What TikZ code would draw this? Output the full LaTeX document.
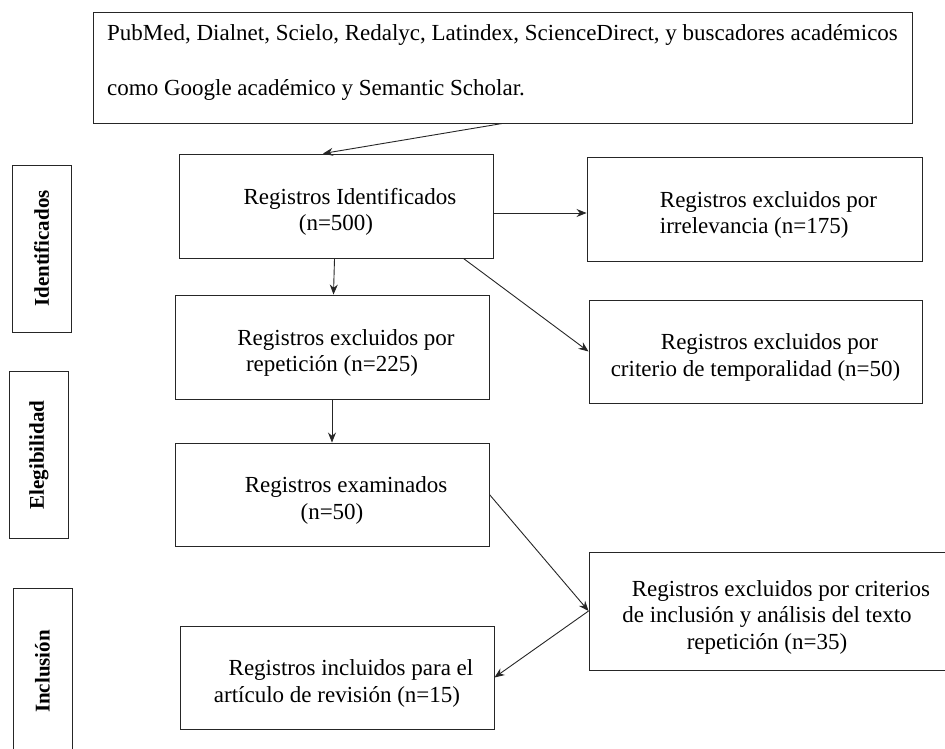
\documentclass[tikz,border=0pt]{standalone}
\usepackage{fontspec}
\setmainfont{Liberation Serif}
\usetikzlibrary{arrows.meta}

\newcommand{\sangria}{\hspace*{28pt}\rule{0pt}{28pt}}
\newcommand{\bajo}{\rule[-15pt]{0pt}{15pt}}

\tikzset{
  caja/.style={draw=black!85, line width=0.9pt, minimum width=314pt, minimum height=104pt, align=center, inner sep=2pt},
  etapa/.style={draw=black!85, line width=0.9pt, rotate=90, minimum width=167pt, minimum height=59pt, inner sep=0pt, font=\bfseries\fontsize{21}{24}\selectfont},
  flecha/.style={-{Stealth[length=10pt,width=8pt]}, line width=0.9pt, draw=black!85}
}

\begin{document}
\begin{tikzpicture}[x=1pt,y=-1pt,font=\fontsize{23}{26.5}\selectfont]
  \useasboundingbox (0,0) rectangle (945,749);

  % fuentes consultadas
  \node[caja, align=left, minimum width=819pt, minimum height=111pt] (fuentes) at (502.5,67.5)
    {PubMed, Dialnet, Scielo, Redalyc, Latindex, ScienceDirect, y buscadores acad\'emicos\\[28pt]como Google acad\'emico y Semantic Scholar.\bajo};

  % etapas
  \node[etapa] (identificados) at (41.5,248.5) {Identificados};
  \node[etapa] (elegibilidad) at (39,455) {Elegibilidad};
  \node[etapa] (inclusion) at (42.5,671.5) {Inclusi\'on};

  % columna izquierda
  \node[caja] (ident) at (336,206) {\sangria Registros Identificados\\(n=500)};
  \node[caja] (rep) at (332,347) {\sangria Registros excluidos por\\repetici\'on (n=225)};
  \node[caja, minimum height=103pt] (exam) at (332,494.5) {\sangria Registros examinados\\(n=50)};
  \node[caja, minimum height=103pt] (incl) at (337,677.5) {\sangria Registros incluidos para el\\art\'iculo de revisi\'on (n=15)};

  % columna derecha
  \node[caja, align=left, minimum width=335pt] (irr) at (754.5,209) {\sangria Registros excluidos por\\\hspace*{28pt}irrelevancia (n=175)};
  \node[caja, minimum width=333pt, minimum height=103pt] (temp) at (755.5,351.5) {\sangria Registros excluidos por\\criterio de temporalidad (n=50)};
  \node[caja, minimum width=356pt, minimum height=118pt] (crit) at (767,611) {\sangria Registros excluidos por criterios\\de inclusi\'on y an\'alisis del texto\\repetici\'on (n=35)};

  % conexiones
  \draw[flecha] (fuentes.south) -- ([xshift=-13pt]ident.north);
  \draw[flecha] ([yshift=-7pt]ident.east) -- ([yshift=-7pt]ident.east -| irr.west);
  \draw[flecha] ([xshift=-30pt]ident.south east) -- (temp.west);
  \draw[flecha] (ident) -- (rep);
  \draw[flecha] (rep) -- (exam);
  \draw[flecha] (exam.east) -- (crit.west);
  \draw[flecha] (crit.west) -- (incl.east);
\end{tikzpicture}
\end{document}
